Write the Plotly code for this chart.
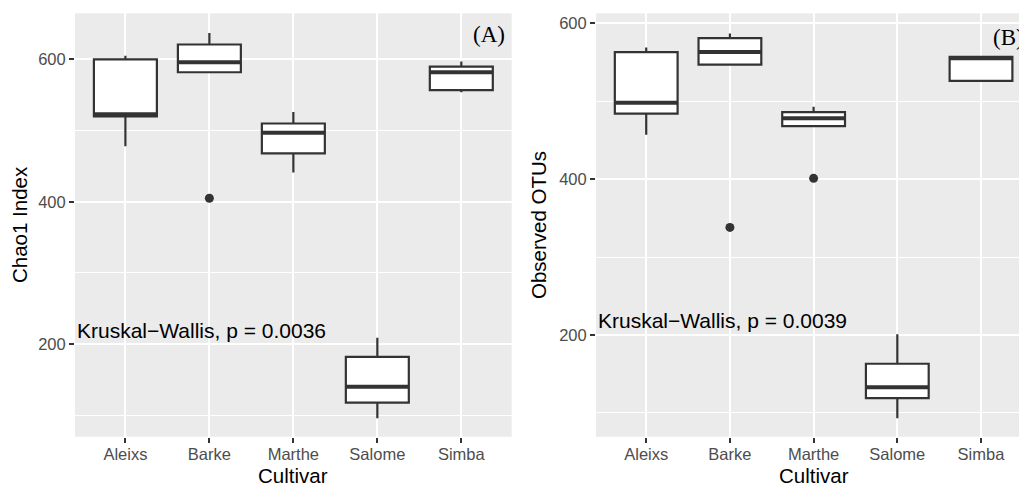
import plotly.graph_objects as go

# Cultivars on the x axis
cultivars = ["Aleixs", "Barke", "Marthe", "Salome", "Simba"]
positions = [0, 1, 2, 3, 4]

# Panel A: Chao1 richness summary per cultivar
chao1_low = [478, 582, 441, 96, 554]
chao1_q1 = [520, 582, 468, 118, 557]
chao1_med = [523, 596, 497, 140, 582]
chao1_q3 = [600, 621, 510, 182, 590]
chao1_high = [605, 637, 526, 209, 597]
chao1_out_pos = [1]
chao1_out_val = [405]
chao1_label = "Kruskal\u2212Wallis, p = 0.0036"

# Panel B: observed OTUs summary per cultivar
otu_low = [457, 547, 468, 93, 525]
otu_q1 = [484, 547, 468, 119, 526]
otu_med = [498, 563, 478, 133, 555]
otu_q3 = [563, 581, 486, 163, 557]
otu_high = [569, 587, 493, 201, 557]
otu_out_pos = [1, 2]
otu_out_val = [338, 401]
otu_label = "Kruskal\u2212Wallis, p = 0.0039"

W, H = 1019, 486
BOX_W = 0.75
DARK = "#333333"
PANEL = "#EBEBEB"
SANS = "Liberation Sans, Arial, sans-serif"

fig = go.Figure()


def add_panel(xa, ya, low, q1, med, q3, high, out_pos, out_val):
    fig.add_trace(go.Box(
        x=positions, q1=q1, median=med, q3=q3,
        lowerfence=low, upperfence=high,
        width=BOX_W, whiskerwidth=0,
        fillcolor="white", line=dict(color=DARK, width=2.2),
        boxpoints=False, showlegend=False,
        xaxis=xa, yaxis=ya,
    ))
    # thicker median bars, as in ggplot's boxplot
    mx, my = [], []
    for p, m in zip(positions, med):
        mx += [p - BOX_W / 2, p + BOX_W / 2, None]
        my += [m, m, None]
    fig.add_trace(go.Scatter(
        x=mx, y=my, mode="lines", line=dict(color=DARK, width=4),
        showlegend=False, hoverinfo="skip", xaxis=xa, yaxis=ya,
    ))
    fig.add_trace(go.Scatter(
        x=out_pos, y=out_val, mode="markers",
        marker=dict(color=DARK, size=9), showlegend=False,
        xaxis=xa, yaxis=ya,
    ))


add_panel("x", "y", chao1_low, chao1_q1, chao1_med, chao1_q3, chao1_high,
          chao1_out_pos, chao1_out_val)
add_panel("x2", "y2", otu_low, otu_q1, otu_med, otu_q3, otu_high,
          otu_out_pos, otu_out_val)

y_dom = [1 - 436.7 / H, 1 - 13.3 / H]

xaxis_common = dict(
    tickmode="array", tickvals=positions, ticktext=cultivars,
    showgrid=True, gridcolor="white", gridwidth=2,
    zeroline=False, showline=False,
    ticks="outside", ticklen=5, tickwidth=2, tickcolor=DARK,
    ticklabelstandoff=-3,
    tickfont=dict(family=SANS, size=16.5, color="#4D4D4D"),
    fixedrange=True,
)
yaxis_common = dict(
    tickmode="array", tickvals=[200, 400, 600],
    showgrid=True, gridcolor="white", gridwidth=2,
    minor=dict(tickvals=[100, 300, 500], showgrid=True,
               gridcolor="white", gridwidth=1, ticks=""),
    zeroline=False, showline=False,
    ticks="outside", ticklen=5, tickwidth=2, tickcolor=DARK,
    tickfont=dict(family=SANS, size=16.5, color="#4D4D4D"),
    fixedrange=True,
)

fig.update_layout(
    width=W, height=H,
    margin=dict(l=0, r=0, t=0, b=0),
    paper_bgcolor="white",
    plot_bgcolor="rgba(0,0,0,0)",
    xaxis=dict(xaxis_common, domain=[75 / W, 511.7 / W], range=[-0.6, 4.6]),
    yaxis=dict(yaxis_common, domain=y_dom, range=[70, 664.8]),
    xaxis2=dict(xaxis_common, domain=[596 / W, 1.0], range=[-0.6, 4.454],
                anchor="y2"),
    yaxis2=dict(yaxis_common, domain=y_dom, range=[69.4, 612.8],
                anchor="x2"),
)

# grey panel backgrounds for the two subplots
for xd in ([75 / W, 511.7 / W], [596 / W, 1.0]):
    fig.add_shape(type="rect", xref="paper", yref="paper",
                  x0=xd[0], x1=xd[1], y0=y_dom[0], y1=y_dom[1],
                  fillcolor=PANEL, line=dict(width=0), layer="below")

ann = []
# test statistic labels
ann.append(dict(text=chao1_label, xref="x", yref="y", x=-0.6, y=219,
                xanchor="left", yanchor="middle", showarrow=False,
                font=dict(family=SANS, size=21, color="black")))
ann.append(dict(text=otu_label, xref="x2", yref="y2", x=-0.6, y=219,
                xanchor="left", yanchor="middle", showarrow=False,
                font=dict(family=SANS, size=21, color="black")))
# axis titles
for xr in ("x", "x2"):
    ann.append(dict(text="Cultivar", xref=xr, yref="paper", x=2,
                    y=1 - 475.5 / H, xanchor="center", yanchor="middle",
                    showarrow=False,
                    font=dict(family=SANS, size=20.5, color="black")))
ann.append(dict(text="Chao1 Index", xref="paper", yref="paper",
                x=19 / W, y=1 - 225 / H, textangle=-90,
                xanchor="center", yanchor="middle", showarrow=False,
                font=dict(family=SANS, size=20.5, color="black")))
ann.append(dict(text="Observed OTUs", xref="paper", yref="paper",
                x=538 / W, y=1 - 225 / H, textangle=-90,
                xanchor="center", yanchor="middle", showarrow=False,
                font=dict(family=SANS, size=20.5, color="black")))
# panel tags
ann.append(dict(text="(A)", xref="paper", yref="paper",
                x=507 / W, y=1 - 34 / H, xanchor="right", yanchor="middle",
                showarrow=False,
                font=dict(family="Liberation Serif, Times New Roman, serif",
                          size=23, color="black")))
ann.append(dict(text="(B)", xref="paper", yref="paper",
                x=991 / W, y=1 - 37 / H, xanchor="left", yanchor="middle",
                showarrow=False,
                font=dict(family="Liberation Serif, Times New Roman, serif",
                          size=23, color="black")))
fig.update_layout(annotations=ann)

fig.write_html("out.html")
